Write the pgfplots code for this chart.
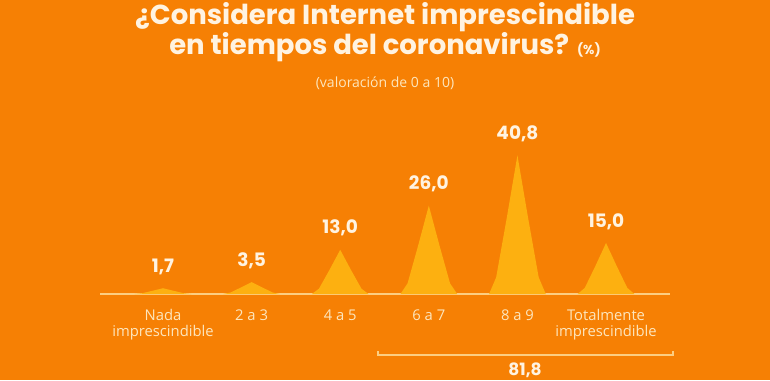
\documentclass[border=0pt]{standalone}
\usepackage{fontspec}
\setmainfont{Poppins}
\newfontfamily\osans{Open Sans}
\usepackage{pgfplots}
\pgfplotsset{compat=1.18}
\definecolor{bg}{RGB}{246,128,4}
\definecolor{peak}{RGB}{253,176,16}
\definecolor{basec}{RGB}{252,206,130}
\definecolor{txt}{RGB}{255,243,225}
\definecolor{lbl}{RGB}{253,230,190}
\begin{document}
\begin{tikzpicture}[x=1pt,y=1pt]
\useasboundingbox (0,0) rectangle (770,380);
\clip (0,0) rectangle (770,380);
\fill[bg] (0,0) rectangle (770,380);
\node[anchor=base,text=txt,font=\bfseries\fontsize{27.5}{30}\selectfont,inner sep=0pt] at (385,355) {¿Considera Internet imprescindible};
\node[anchor=base,text=txt,font=\bfseries\fontsize{27.5}{30}\selectfont,inner sep=0pt] at (385,325) {en tiempos del coronavirus? {\fontsize{13}{14}\selectfont(\%)}};
\node[anchor=base,text=lbl,font=\osans\fontsize{14}{16}\selectfont,inner sep=0pt] at (385,292) {(valoración de 0 a 10)};
\begin{axis}[
  at={(100pt,86pt)}, anchor=south west,
  scale only axis, width=570pt, height=153pt,
  xmin=-0.711, xmax=5.722, ymin=0, ymax=45,
  axis x line=bottom, axis y line=none,
  x axis line style={-, draw=basec, line width=1.8pt},
  xtick={0,1,2,3,4,5},
  xticklabels={{Nada\\imprescindible},{2 a 3},{4 a 5},{6 a 7},{8 a 9},{Totalmente\\imprescindible}},
  major tick length=0pt,
  xticklabel style={font=\osans\fontsize{14.8}{16}\selectfont, text=lbl, align=center, anchor=north, yshift=-12pt},
  clip=false,
]
\addplot[fill=peak, draw=none] coordinates {(-0.32,0) (-0.24,0.2) (-0.12,0.94) (0,1.7) (0.12,0.94) (0.24,0.2) (0.32,0)} -- cycle;
\addplot[fill=peak, draw=none] coordinates {(0.68,0) (0.76,0.42) (0.88,1.93) (1,3.5) (1.12,1.93) (1.24,0.42) (1.32,0)} -- cycle;
\addplot[fill=peak, draw=none] coordinates {(1.68,0) (1.76,1.56) (1.88,7.15) (2,13) (2.12,7.15) (2.24,1.56) (2.32,0)} -- cycle;
\addplot[fill=peak, draw=none] coordinates {(2.68,0) (2.76,3.12) (2.88,14.3) (3,26) (3.12,14.3) (3.24,3.12) (3.32,0)} -- cycle;
\addplot[fill=peak, draw=none] coordinates {(3.68,0) (3.76,4.9) (3.88,22.44) (4,40.8) (4.12,22.44) (4.24,4.9) (4.32,0)} -- cycle;
\addplot[fill=peak, draw=none] coordinates {(4.68,0) (4.76,1.8) (4.88,8.25) (5,15) (5.12,8.25) (5.24,1.8) (5.32,0)} -- cycle;
\addplot[draw=none, mark=none, point meta=y,
  nodes near coords={\pgfmathprintnumber[use comma,fixed,fixed zerofill,precision=1,assume math mode=true]{\pgfplotspointmeta}},
  nodes near coords style={anchor=base, yshift=16pt, inner sep=0pt, text=txt, font=\bfseries\fontsize{18.5}{20}\selectfont}]
  coordinates {(0,1.7) (1,3.5) (2,13.0) (3,26.0) (4,40.8) (5,15.0)};
\end{axis}
\draw[basec, line width=1.5pt] (378,29) -- (378,25) -- (673,25) -- (673,29);
\node[anchor=base,text=txt,font=\bfseries\fontsize{17}{18}\selectfont,inner sep=0pt] at (525,5) {81,8};
\end{tikzpicture}
\end{document}
